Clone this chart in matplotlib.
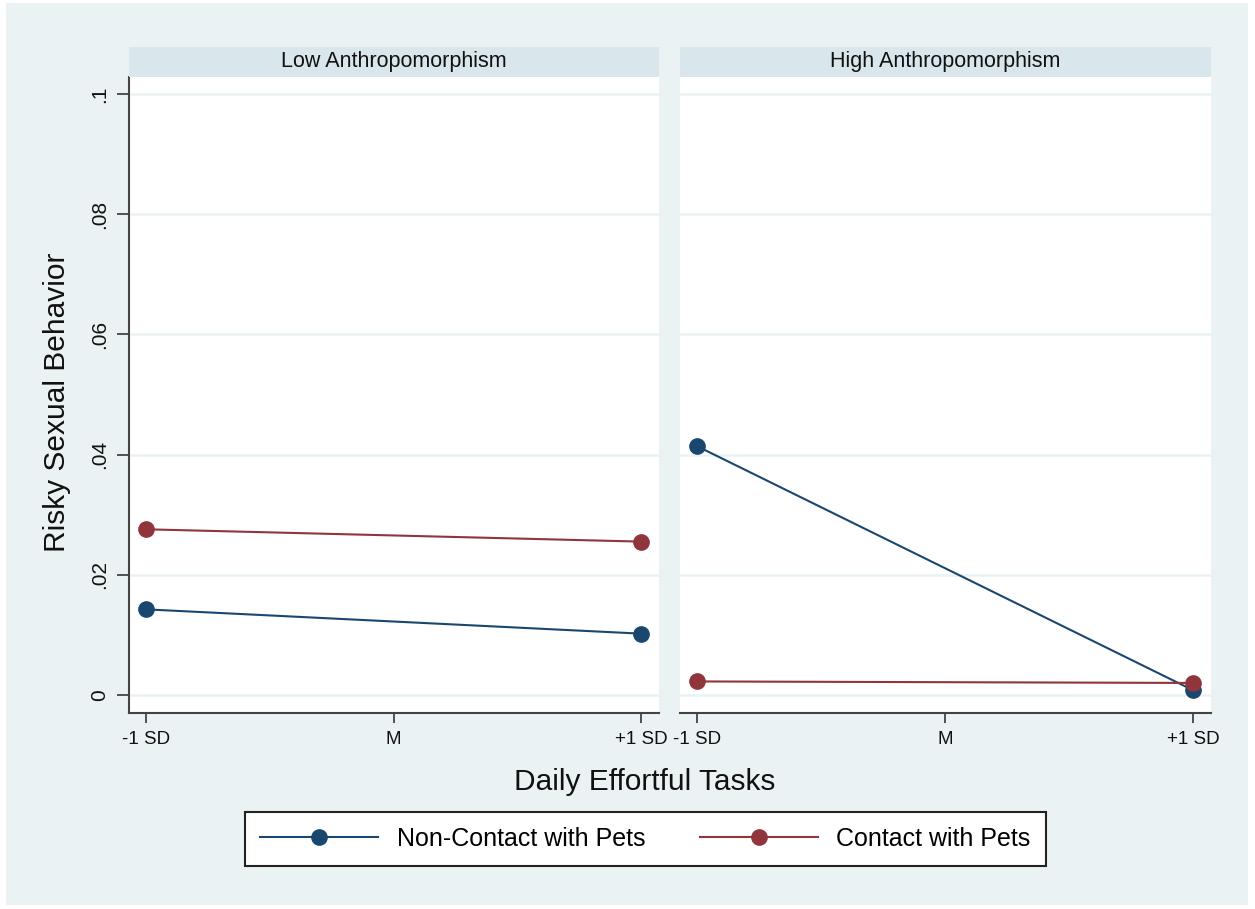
import numpy as np
import matplotlib
matplotlib.use("Agg")
import matplotlib.pyplot as plt
from matplotlib.patches import Rectangle
from matplotlib.lines import Line2D

plt.rcParams["font.family"] = ["Liberation Sans", "DejaVu Sans"]

# data
x_pos = [-1, 1]
x_ticks = [-1, 0, 1]
x_labels = ["-1 SD", "M", "+1 SD"]
y_ticks = [0, 0.02, 0.04, 0.06, 0.08, 0.1]
y_labels = ["0", ".02", ".04", ".06", ".08", ".1"]
panels = ["Low Anthropomorphism", "High Anthropomorphism"]
series = ["Non-Contact with Pets", "Contact with Pets"]
low_noncontact = [0.01424, 0.01020]
low_contact = [0.02756, 0.02551]
high_noncontact = [0.04138, 0.00080]
high_contact = [0.00225, 0.00200]

navy = "#1a476f"
maroon = "#90353b"
bg = "#eaf2f3"
strip_col = "#d9e6eb"
W, H = 1255, 909

fig = plt.figure(figsize=(W / 100, H / 100), dpi=100, facecolor="white")
fig.patches.append(Rectangle((6 / W, 4 / H), 1242 / W, 902 / H, transform=fig.transFigure,
                             facecolor=bg, edgecolor="none", zorder=-10))

boxes = [(129, 659), (680, 1211)]
top, bottom = 77, 713
data = [(low_noncontact, low_contact), (high_noncontact, high_contact)]

for i, (x0, x1) in enumerate(boxes):
    ax = fig.add_axes([x0 / W, 1 - bottom / H, (x1 - x0) / W, (bottom - top) / H])
    ax.set_facecolor("white")
    for y in y_ticks:
        ax.axhline(y, color=bg, lw=1.8, zorder=1)
    nc, c = data[i]
    ax.plot(x_pos, nc, color=navy, lw=1.5, marker="o", ms=11, zorder=3)
    ax.plot(x_pos, c, color=maroon, lw=1.5, marker="o", ms=11, zorder=3)
    ax.set_xlim(-1.069, 1.073)
    ax.set_ylim(-0.003, 0.1028)
    ax.set_xticks(x_ticks)
    ax.set_xticklabels(x_labels, fontsize=13.5, color="#111111")
    ax.tick_params(axis="x", length=7, width=1.3, color="#444444", pad=6)
    for s in ["top", "right"]:
        ax.spines[s].set_visible(False)
    ax.spines["bottom"].set_color("#444444")
    ax.spines["bottom"].set_linewidth(1.5)
    if i == 0:
        ax.set_yticks(y_ticks)
        ax.set_yticklabels(y_labels, fontsize=15, rotation=90, va="center", color="#111111")
        ax.tick_params(axis="y", length=9, width=1.3, color="#444444", pad=5)
        ax.spines["left"].set_color("#444444")
        ax.spines["left"].set_linewidth(1.5)
    else:
        ax.set_yticks([])
        ax.spines["left"].set_visible(False)

    # strip header
    sax = fig.add_axes([x0 / W, 1 - top / H, (x1 - x0) / W, 30 / H])
    sax.set_facecolor(strip_col)
    sax.set_xticks([])
    sax.set_yticks([])
    for s in sax.spines.values():
        s.set_visible(False)
    sax.text(0.5, 0.5, panels[i], ha="center", va="center", fontsize=15.5,
             color="#111111", transform=sax.transAxes)

fig.text(57 / W, 1 - 402 / H, "Risky Sexual Behavior", rotation=90,
         ha="center", va="center", fontsize=21.5, color="#111111")
fig.text(645 / W, 1 - 782 / H, "Daily Effortful Tasks",
         ha="center", va="center", fontsize=21.5, color="#111111")

handles = [Line2D([], [], color=navy, lw=1.5, marker="o", ms=11),
           Line2D([], [], color=maroon, lw=1.5, marker="o", ms=11)]
leg = fig.legend(handles, series, loc="center", ncol=2,
                 bbox_to_anchor=((243 + 1048) / 2 / W, 1 - (810 + 867) / 2 / H),
                 fontsize=18, handlelength=4.7, handletextpad=0.75, columnspacing=2.2,
                 borderpad=0.6, fancybox=False, framealpha=1, edgecolor="#222222")
leg.get_frame().set_linewidth(1.5)

fig.savefig("out.png", dpi=100, facecolor="white")
